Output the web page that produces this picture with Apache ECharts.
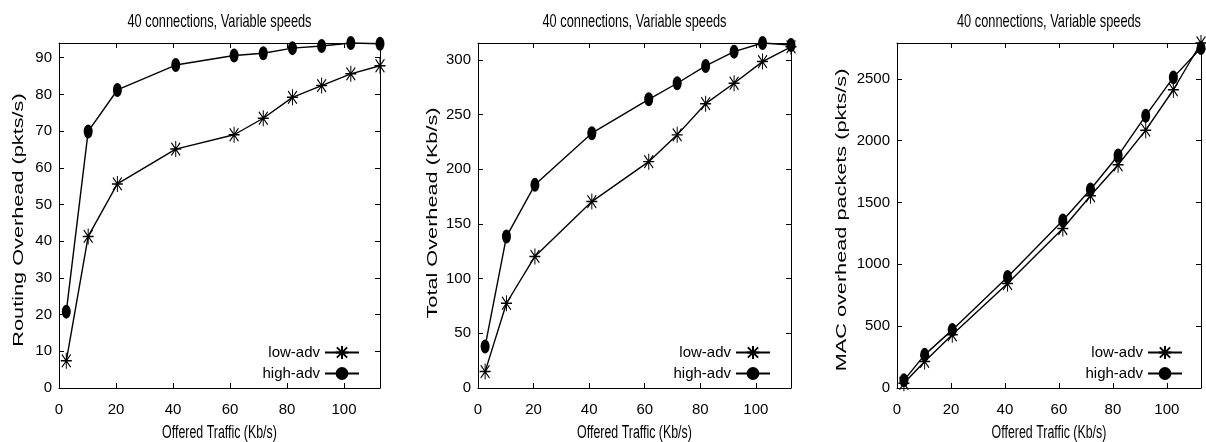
<!DOCTYPE html>
<html>
<head>
<meta charset="utf-8">
<script src="https://cdn.jsdelivr.net/npm/echarts@6/dist/echarts.min.js"></script>
<style>
html,body{margin:0;padding:0;background:#fff;}
#c{width:1206px;height:442px;}
</style>
</head>
<body>
<div id="c"></div>
<script>
// ---- data ----
const offered = [2.56, 10.24, 20.48, 40.96, 61.44, 71.68, 81.92, 92.16, 102.4, 112.64];
const xTicks = [0, 20, 40, 60, 80, 100];

const routingLow  = [7.4, 41.3, 55.6, 65.1, 69.0, 73.5, 79.2, 82.4, 85.6, 87.8];
const routingHigh = [20.8, 69.9, 81.2, 88.0, 90.6, 91.2, 92.6, 93.2, 94.0, 93.8];

const totalLow  = [15, 77.5, 120.3, 170.5, 207, 231.5, 260, 278.7, 298.5, 312];
const totalHigh = [38, 138.5, 185.8, 233, 264, 278.7, 294.5, 307.6, 315.5, 313.7];

const macLow  = [38, 215, 430, 845, 1290, 1555, 1805, 2085, 2412, 2790];
const macHigh = [62, 268, 470, 898, 1355, 1605, 1880, 2202, 2512, 2750];

const titles = ['40 connections, Variable speeds', '40 connections, Variable speeds', '40 connections, Variable speeds'];
const yNames = ['Routing Overhead (pkts/s)', 'Total Overhead (Kb/s)', 'MAC overhead packets (pkts/s)'];
const xName = 'Offered Traffic (Kb/s)';
const yIntervals = [10, 50, 500];
const seriesNames = ['low-adv', 'high-adv'];

// ---- layout / style ----
const FONT = "'Liberation Sans',Arial,Helvetica,sans-serif";
const grids = [
  {left: 59, top: 43, width: 321, height: 345},
  {left: 478, top: 43, width: 313, height: 345},
  {left: 897, top: 43, width: 304, height: 345}
];
const yLabelPos = [[19, 220], [433, 213], [842, 220]];
const legendRight = [841, 430, 18];
const STAR = 'path://M0,50L100,50M50,0L50,100M10,10L90,90M90,10L10,90';

const panels = [[routingLow, routingHigh], [totalLow, totalHigh], [macLow, macHigh]];

const option = {
  animation: false,
  backgroundColor: '#fff',
  grid: [], xAxis: [], yAxis: [], series: [], legend: [], graphic: []
};

function axisCommon() {
  return {
    axisLine: {show: true, onZero: false, lineStyle: {color: '#000', width: 1}},
    axisTick: {show: true, inside: true, length: 5, lineStyle: {color: '#000', width: 1}},
    splitLine: {show: false}
  };
}

function stretchedText(text, x, y, size, rot, sx, sy) {
  return {
    type: 'text', x: x, y: y, rotation: rot, scaleX: sx, scaleY: sy, silent: true,
    style: {text: text, fontFamily: FONT, fontSize: size, fill: '#000',
      align: 'center', verticalAlign: 'middle', textAlign: 'center', textVerticalAlign: 'middle'}
  };
}

panels.forEach((pd, i) => {
  const g = grids[i];
  const cx = g.left + g.width / 2;
  option.grid.push(Object.assign({containLabel: false}, g));
  const xmax = Math.max(...offered);
  const ymax = Math.max(...pd[0], ...pd[1]);
  option.xAxis.push(Object.assign(axisCommon(), {
    type: 'value', gridIndex: i, position: 'bottom', min: 0, max: xmax, interval: 20,
    axisLabel: {show: true, margin: 14, showMaxLabel: false, color: '#000', fontFamily: FONT, fontSize: 15,
      formatter: v => (xTicks.indexOf(v) >= 0 ? String(v) : '')}
  }));
  option.xAxis.push(Object.assign(axisCommon(), {
    type: 'value', gridIndex: i, position: 'top', min: 0, max: xmax, interval: 20,
    axisLabel: {show: false}
  }));
  option.yAxis.push(Object.assign(axisCommon(), {
    type: 'value', gridIndex: i, position: 'left', min: 0, max: ymax, interval: yIntervals[i],
    axisLabel: {show: true, margin: 7, showMaxLabel: false, color: '#000', fontFamily: FONT, fontSize: 15,
      formatter: v => String(v)}
  }));
  option.yAxis.push(Object.assign(axisCommon(), {
    type: 'value', gridIndex: i, position: 'right', min: 0, max: ymax, interval: yIntervals[i],
    axisLabel: {show: false}
  }));
  const mk = (vals) => offered.map((x, k) => [x, vals[k]]);
  option.series.push({
    name: seriesNames[0], type: 'line', xAxisIndex: 2 * i, yAxisIndex: 2 * i,
    data: mk(pd[0]), symbol: STAR, symbolSize: [11, 16], clip: false,
    lineStyle: {color: '#000', width: 1.4},
    itemStyle: {color: '#000', borderColor: '#000', borderWidth: 1.2},
    emphasis: {disabled: true}, z: 3
  });
  option.series.push({
    name: seriesNames[1], type: 'line', xAxisIndex: 2 * i, yAxisIndex: 2 * i,
    data: mk(pd[1]), symbol: 'circle', symbolSize: [9, 14], clip: false,
    lineStyle: {color: '#000', width: 1.4},
    itemStyle: {color: '#000', borderWidth: 0},
    emphasis: {disabled: true}, z: 4
  });
  option.legend.push({
    orient: 'vertical', align: 'right', right: legendRight[i], top: 340,
    itemWidth: 34, itemHeight: 16, itemGap: 6,
    selectedMode: false,
    textStyle: {fontFamily: FONT, fontSize: 15, color: '#000'},
    data: seriesNames
  });
  option.graphic.push(stretchedText(titles[i], cx, 22, 12.8, 0, 1, 1.45));
  option.graphic.push(stretchedText(xName, cx, 433, 12.4, 0, 1, 1.45));
  option.graphic.push(stretchedText(yNames[i], yLabelPos[i][0], yLabelPos[i][1], 14, Math.PI / 2, 1.55, 1));
});

const chart = echarts.init(document.getElementById('c'), null, {renderer: 'canvas'});
chart.setOption(option);
</script>
</body>
</html>
